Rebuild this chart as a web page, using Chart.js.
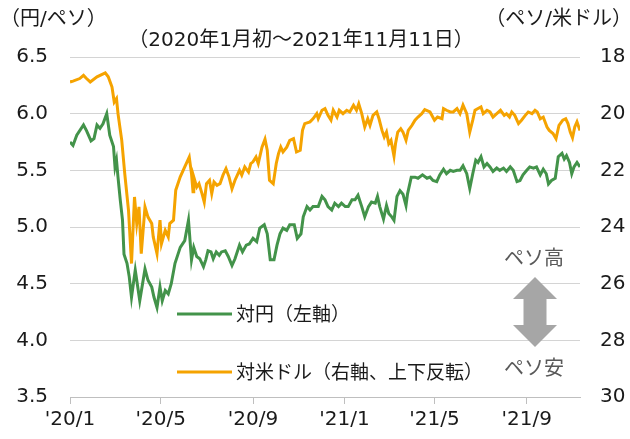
<!DOCTYPE html>
<html lang="ja">
<head>
<meta charset="utf-8">
<title>ペソ相場</title>
<script src="https://cdn.jsdelivr.net/npm/chart.js@4.4.1/dist/chart.umd.min.js"></script>
<style>
  html, body { margin: 0; padding: 0; background: #fff; }
  #wrap { width: 630px; height: 439px; }
</style>
</head>
<body>
<div id="wrap"><canvas id="c" width="630" height="439"></canvas></div>
<script>
// --------- データ（2020/1/1 からの経過日数 → 値） ---------
const tickDays   = [0, 121, 244, 366, 486, 609];
const tickLabels = ["'20/1", "'20/5", "'20/9", "'21/1", "'21/5", "'21/9"];
const lastDay    = 680; // 2021/11/11

// 対円（左軸, 円/ペソ）
const jpyDays = [
  0, 4, 9, 18, 22, 28, 32, 36, 40, 44, 49, 53, 58, 60, 62, 64, 67, 70, 72, 76,
  79, 82, 87, 89, 93, 100, 104, 109, 112, 116, 120, 123, 127, 131, 135, 140, 147, 153, 158,
  162, 165, 169, 173, 178, 181, 184, 188, 191, 195, 199, 202, 207, 211, 216, 220, 226, 230,
  235, 239, 244, 249, 253, 259, 263, 267, 272, 276, 280, 284, 289, 293, 299, 303, 308, 311,
  316, 320, 324, 331, 336, 340, 344, 349, 353, 358, 362, 367, 371, 376, 380, 384, 389, 393,
  398, 402, 407, 410, 413, 418, 422, 425, 429, 432, 436, 440, 444, 448, 450, 455, 460, 464,
  470, 476, 480, 484, 489, 493, 498, 502, 507, 511, 516, 520, 524, 529, 533, 537, 541, 544,
  548, 552, 556, 560, 564, 569, 573, 578, 582, 587, 591, 596, 600, 604, 609, 613, 618, 622,
  627, 631, 635, 638, 642, 647, 651, 656, 659, 662, 666, 669, 672, 676, 680
];
const jpyVals = [
  5.75, 5.72, 5.81, 5.90, 5.85, 5.76, 5.78, 5.90, 5.87, 5.91, 6.00, 5.81, 5.71, 5.53, 5.59, 5.44, 5.24, 5.06, 4.76, 4.68,
  4.56, 4.38, 4.62, 4.53, 4.35, 4.63, 4.53, 4.47, 4.38, 4.29, 4.47, 4.35, 4.44, 4.41, 4.50, 4.68, 4.82, 4.88, 5.06,
  4.71, 4.82, 4.74, 4.72, 4.65, 4.71, 4.79, 4.78, 4.72, 4.78, 4.75, 4.78, 4.79, 4.74, 4.66, 4.72, 4.84, 4.78,
  4.84, 4.85, 4.90, 4.87, 4.99, 5.02, 4.94, 4.71, 4.71, 4.84, 4.94, 4.99, 4.97, 5.02, 5.02, 4.90, 4.94, 5.09,
  5.18, 5.15, 5.18, 5.18, 5.27, 5.24, 5.18, 5.15, 5.21, 5.18, 5.21, 5.18, 5.18, 5.24, 5.24, 5.28, 5.18, 5.09,
  5.18, 5.22, 5.21, 5.27, 5.18, 5.07, 5.19, 5.12, 5.09, 5.06, 5.27, 5.32, 5.29, 5.19, 5.29, 5.44, 5.44, 5.43,
  5.46, 5.43, 5.44, 5.41, 5.40, 5.46, 5.51, 5.47, 5.50, 5.49, 5.50, 5.50, 5.54, 5.47, 5.34, 5.47, 5.59, 5.57,
  5.62, 5.53, 5.56, 5.53, 5.49, 5.52, 5.50, 5.52, 5.49, 5.53, 5.50, 5.40, 5.41, 5.46, 5.50, 5.53, 5.52, 5.53,
  5.46, 5.51, 5.47, 5.38, 5.41, 5.43, 5.62, 5.65, 5.60, 5.63, 5.57, 5.47, 5.53, 5.57, 5.53
];

// 対米ドル（右軸・上下反転, ペソ/米ドル）
const usdDays = [
  0, 4, 13, 18, 22, 27, 36, 47, 51, 56, 59, 62, 64, 69, 73, 78, 82, 86, 89, 92, 95,
  100, 104, 109, 111, 116, 120, 122, 127, 131, 133, 138, 141, 147, 153, 159, 162, 164,
  165, 169, 172, 176, 179, 182, 186, 189, 192, 196, 200, 204, 208, 212, 216, 220, 226,
  229, 233, 238, 241, 244, 248, 251, 256, 260, 263, 266, 271, 275, 278, 281, 284, 289,
  293, 298, 302, 307, 310, 313, 320, 324, 329, 331, 336, 340, 344, 348, 351, 356, 359,
  364, 369, 373, 378, 382, 385, 389, 393, 397, 400, 404, 409, 412, 416, 419, 422, 425,
  428, 432, 434, 437, 441, 444, 448, 451, 456, 460, 464, 469, 473, 480, 486, 490, 496,
  498, 502, 507, 511, 516, 520, 524, 529, 533, 537, 540, 544, 548, 551, 556, 560, 564,
  569, 574, 579, 582, 586, 589, 593, 598, 602, 607, 611, 616, 620, 623, 627, 631, 636,
  639, 644, 648, 652, 657, 661, 664, 667, 670, 673, 676, 680
];
const usdVals = [
  18.88, 18.85, 18.76, 18.65, 18.76, 18.88, 18.70, 18.56, 18.70, 19.06, 19.59, 19.47, 20.00, 20.94, 22.12, 23.41, 25.29, 22.94, 23.88, 23.29, 24.94,
  23.29, 23.65, 23.88, 24.35, 24.94, 23.76, 24.59, 24.12, 24.35, 23.88, 23.76, 22.70, 22.23, 21.88, 21.53, 22.12, 22.76,
  22.23, 22.59, 22.47, 22.82, 23.12, 22.47, 22.35, 22.82, 22.41, 22.53, 22.47, 22.17, 21.94, 22.23, 22.65, 22.35, 22.00,
  22.17, 21.88, 22.06, 21.76, 21.70, 21.53, 21.76, 21.18, 20.90, 21.29, 22.35, 22.47, 21.76, 21.41, 21.18, 21.35, 21.18,
  20.94, 20.88, 21.35, 21.29, 20.59, 20.35, 20.29, 20.18, 20.00, 20.18, 19.88, 19.82, 20.06, 20.23, 19.88, 20.12, 19.88,
  20.00, 19.88, 19.94, 19.70, 19.88, 19.65, 20.00, 20.47, 20.18, 20.41, 20.06, 19.94, 20.18, 20.59, 20.82, 20.65, 21.06,
  20.94, 21.50, 21.06, 20.65, 20.53, 20.65, 20.94, 20.59, 20.41, 20.23, 20.12, 20.00, 19.86, 19.94, 20.23, 20.12, 20.18,
  19.82, 19.88, 19.94, 19.94, 19.82, 20.00, 19.70, 20.00, 20.65, 20.23, 19.88, 19.82, 19.76, 20.00, 19.88, 19.94, 20.12,
  20.00, 19.88, 20.06, 20.00, 20.12, 19.94, 20.06, 20.35, 20.23, 20.06, 19.94, 20.00, 19.88, 19.94, 20.18, 20.12, 20.47,
  20.59, 20.70, 20.88, 20.41, 20.23, 20.18, 20.35, 20.65, 20.85, 20.47, 20.29, 20.59
];

// --------- 共通設定 ---------
const JP_FONT  = '"Noto Sans CJK JP", "Noto Sans", sans-serif';
const MIX_FONT = '"DejaVu Sans", "Noto Sans CJK JP", sans-serif'; // 数字は Verdana 風、和文は Noto
const NUM_FONT = '"DejaVu Sans", Verdana, sans-serif';
const GREEN  = "#43934a";
const ORANGE = "#f5a300";

const toPoints = (xs, ys) => xs.map((x, i) => ({ x, y: ys[i] }));

// 凡例・注記・矢印などの装飾
const decoPlugin = {
  id: "deco",
  afterDraw(chart) {
    const ctx = chart.ctx;
    ctx.save();
    ctx.textBaseline = "middle";
    ctx.fillStyle = "#1a1a1a";

    // 単位・期間
    ctx.font = "20px " + MIX_FONT;
    ctx.textAlign = "left";
    ctx.fillText("（円/ペソ）", 0, 20);
    ctx.textAlign = "right";
    ctx.fillText("（ペソ/米ドル）", 632, 20);
    ctx.textAlign = "center";
    ctx.fillText("（2020年1月初～2021年11月11日）", 301, 41);

    // 凡例
    ctx.font = "19px " + JP_FONT;
    const leg = [
      { label: "対円（左軸）", color: GREEN, y: 314 },
      { label: "対米ドル（右軸、上下反転）", color: ORANGE, y: 372 }
    ];
    ctx.textAlign = "left";
    leg.forEach(l => {
      ctx.strokeStyle = l.color;
      ctx.lineWidth = 3;
      ctx.beginPath();
      ctx.moveTo(177, l.y);
      ctx.lineTo(232, l.y);
      ctx.stroke();
      ctx.fillStyle = "#1a1a1a";
      ctx.fillText(l.label, 236, l.y);
    });

    // ペソ高 / ペソ安 と両矢印
    ctx.font = "20px " + JP_FONT;
    ctx.fillStyle = "#595959";
    ctx.textAlign = "center";
    ctx.fillText("ペソ高", 534, 257);
    ctx.fillText("ペソ安", 534, 367);

    ctx.fillStyle = "#a6a6a6";
    ctx.beginPath();
    ctx.moveTo(535, 277);
    ctx.lineTo(557, 299);
    ctx.lineTo(546.5, 299);
    ctx.lineTo(546.5, 325);
    ctx.lineTo(557, 325);
    ctx.lineTo(535, 347);
    ctx.lineTo(513, 325);
    ctx.lineTo(523.5, 325);
    ctx.lineTo(523.5, 299);
    ctx.lineTo(513, 299);
    ctx.closePath();
    ctx.fill();
    ctx.restore();
  }
};

new Chart(document.getElementById("c"), {
  type: "line",
  data: {
    datasets: [
      {
        label: "対円（左軸）",
        data: toPoints(jpyDays, jpyVals),
        yAxisID: "yL",
        borderColor: GREEN,
        borderWidth: 3,
        pointRadius: 0,
        tension: 0
      },
      {
        label: "対米ドル（右軸、上下反転）",
        data: toPoints(usdDays, usdVals),
        yAxisID: "yR",
        borderColor: ORANGE,
        borderWidth: 3,
        pointRadius: 0,
        tension: 0
      }
    ]
  },
  options: {
    responsive: false,
    animation: false,
    devicePixelRatio: 1,
    layout: { padding: { top: 57, left: 0, right: 0, bottom: 0 } },
    plugins: { legend: { display: false }, tooltip: { enabled: false } },
    scales: {
      x: {
        type: "linear",
        min: 0,
        max: lastDay,
        afterFit: s => { s.height = 42; },
        afterBuildTicks: s => { s.ticks = tickDays.map(v => ({ value: v })); },
        grid: { drawOnChartArea: false, drawTicks: true, tickLength: 7, color: "#bfbfbf" },
        border: { color: "#bfbfbf", width: 1 },
        ticks: {
          autoSkip: false,
          maxRotation: 0,
          padding: 4,
          color: "#1a1a1a",
          font: { family: NUM_FONT, size: 20 },
          callback: v => tickLabels[tickDays.indexOf(v)] ?? ""
        }
      },
      yL: {
        position: "left",
        min: 3.5,
        max: 6.5,
        afterFit: s => { s.width = 70; },
        grid: { color: "#d4d4d4", drawTicks: false },
        border: { display: false },
        ticks: {
          stepSize: 0.5,
          padding: 22,
          color: "#1a1a1a",
          font: { family: NUM_FONT, size: 20 },
          callback: v => v.toFixed(1)
        }
      },
      yR: {
        position: "right",
        reverse: true,
        min: 18,
        max: 30,
        afterFit: s => { s.width = 50; },
        grid: { drawOnChartArea: false, drawTicks: false },
        border: { display: false },
        ticks: {
          stepSize: 2,
          padding: 20,
          color: "#1a1a1a",
          font: { family: NUM_FONT, size: 20 }
        }
      }
    }
  },
  plugins: [decoPlugin]
});
</script>
</body>
</html>
